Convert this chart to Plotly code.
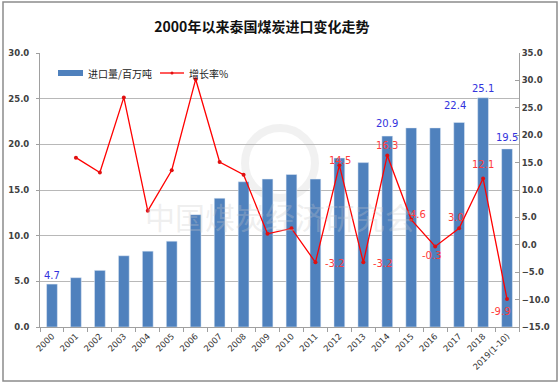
import plotly.graph_objects as go

years = ["2000", "2001", "2002", "2003", "2004", "2005", "2006", "2007", "2008", "2009",
         "2010", "2011", "2012", "2013", "2014", "2015", "2016", "2017", "2018", "2019(1-10)"]
imports = [4.7, 5.4, 6.2, 7.8, 8.3, 9.4, 12.3, 14.1, 15.9, 16.2,
           16.7, 16.2, 18.5, 18.0, 20.9, 21.8, 21.8, 22.4, 25.1, 19.5]
growth = [None, 15.9, 13.2, 26.9, 6.2, 13.6, 30.2, 15.1, 12.8, 2.0,
          3.0, -3.2, 14.5, -3.2, 16.3, 4.6, -0.3, 3.0, 12.1, -9.9]
bar_label_years = ["2000", "2014", "2017", "2018", "2019(1-10)"]
growth_label_years = ["2011", "2012", "2013", "2014", "2015", "2016", "2017", "2018", "2019(1-10)"]

title = "2000年以来泰国煤炭进口变化走势"
bar_name = "进口量/百万吨"
line_name = "增长率%"
watermark = "中国煤炭经济研究会"

W, H = 560, 384
L, R, T, B = 40, 41, 53, 57
pw, ph = W - L - R, H - T - B

def px(x):
    return (x - L) / pw

def py(y):
    return (H - B - y) / ph

fig = go.Figure()
fig.add_trace(go.Bar(x=years, y=imports, name=bar_name, marker_color="#4f81bd",
                     width=0.45, showlegend=False))
fig.add_trace(go.Scatter(x=years, y=growth, name=line_name, yaxis="y2", mode="lines+markers",
                         line=dict(color="#ff0000", width=1.3),
                         marker=dict(color="#e01010", size=4, symbol="circle"),
                         showlegend=False, cliponaxis=False))

# data labels (placed via axis coordinates, category index, with small pixel offsets)
bar_shift = {"2000": (0, 9), "2014": (0, 13), "2017": (-4, 17), "2018": (0, 9), "2019(1-10)": (0, 11)}
for yr in bar_label_years:
    i = years.index(yr)
    v = imports[i]
    dx, dy = bar_shift[yr]
    fig.add_annotation(x=i, y=v, xref="x", yref="y", text=f"{v:.1f}", showarrow=False,
                       xshift=dx, yshift=dy, font=dict(family="DejaVu Sans", size=10, color="#3333dd"))

growth_shift = {"2011": (20, -1), "2012": (1, 5), "2013": (20, -1), "2014": (0, 10),
                "2015": (7, 5), "2016": (-3, -9), "2017": (-3, 11), "2018": (0, 14),
                "2019(1-10)": (-6, -12)}
for yr in growth_label_years:
    i = years.index(yr)
    v = growth[i]
    dx, dy = growth_shift[yr]
    fig.add_annotation(x=i, y=v, xref="x", yref="y2", text=f"{v:.1f}", showarrow=False,
                       xshift=dx, yshift=dy, font=dict(family="DejaVu Sans", size=10, color="#ff3b3b"))

y_font = dict(family="DejaVu Sans", size=8.5, color="#404040", weight="bold")
x_font = dict(family="DejaVu Sans", size=8.5, color="#333333")
fig.update_layout(
    width=W, height=H,
    margin=dict(l=L, r=R, t=T, b=B, autoexpand=False),
    paper_bgcolor="white", plot_bgcolor="white",
    title=dict(text="<b>" + title + "</b>", x=px(264), xanchor="center", y=1 - 27 / H, yanchor="middle",
               font=dict(family="Noto Sans CJK SC", size=14, color="#111111")),
    showlegend=False,
    xaxis=dict(type="category", tickangle=-45, tickfont=x_font, automargin=False,
               showline=True, linecolor="#a0a0a0", ticks="outside", tickson="boundaries",
               ticklen=4, tickcolor="#a0a0a0", showgrid=False, range=[-0.5, 19.5]),
    yaxis=dict(range=[0, 30], dtick=5, tickformat=".1f", tickfont=y_font, automargin=False,
               showline=True, linecolor="#a0a0a0", ticks="outside", ticklen=3, tickcolor="#a0a0a0",
               ticklabelstandoff=5,
               showgrid=True, gridcolor="#b8b8b8", gridwidth=1, zeroline=False),
    yaxis2=dict(range=[-15, 35], dtick=5, tickformat=".1f", tickfont=y_font, overlaying="y",
                side="right", showline=True, linecolor="#a0a0a0", ticks="inside", ticklen=4,
                tickcolor="#a0a0a0", showgrid=False, zeroline=False, automargin=False),
)

# custom legend
fig.add_shape(type="rect", xref="paper", yref="paper", x0=px(58), x1=px(83), y0=py(76), y1=py(70),
              fillcolor="#4f81bd", line=dict(width=0))
fig.add_annotation(text=bar_name, xref="paper", yref="paper", x=px(86), y=py(73), xanchor="left",
                   yanchor="middle", showarrow=False,
                   font=dict(family="Noto Sans CJK SC", size=10, color="#222222"))
fig.add_shape(type="line", xref="paper", yref="paper", x0=px(160), x1=px(184), y0=py(73), y1=py(73),
              line=dict(color="#ff0000", width=1.3))
fig.add_shape(type="circle", xref="paper", yref="paper", x0=px(170.5), x1=px(173.5), y0=py(74.5),
              y1=py(71.5), fillcolor="#e01010", line=dict(width=0))
fig.add_annotation(text=line_name, xref="paper", yref="paper", x=px(187), y=py(73), xanchor="left",
                   yanchor="middle", showarrow=False,
                   font=dict(family="Noto Sans CJK SC", size=10, color="#222222"))

# outer frame
fig.add_shape(type="rect", xref="paper", yref="paper",
              x0=px(3), x1=px(557), y0=py(381), y1=py(2),
              line=dict(color="#8c8c8c", width=1.5), fillcolor="rgba(0,0,0,0)", layer="below")

# watermark
fig.add_annotation(text=watermark, xref="paper", yref="paper",
                   x=px(280), y=py(240), showarrow=False,
                   font=dict(family="Noto Sans CJK SC", size=30, color="rgba(200,200,200,0.3)"))
fig.add_shape(type="circle", xref="paper", yref="paper",
              x0=px(245), x1=px(315), y0=py(198), y1=py(128),
              line=dict(color="rgba(200,200,200,0.25)", width=8), layer="below")

fig.write_html("out.html", config={"displayModeBar": False},
               post_script="document.body.style.margin='0px';document.body.style.overflow='hidden';")
